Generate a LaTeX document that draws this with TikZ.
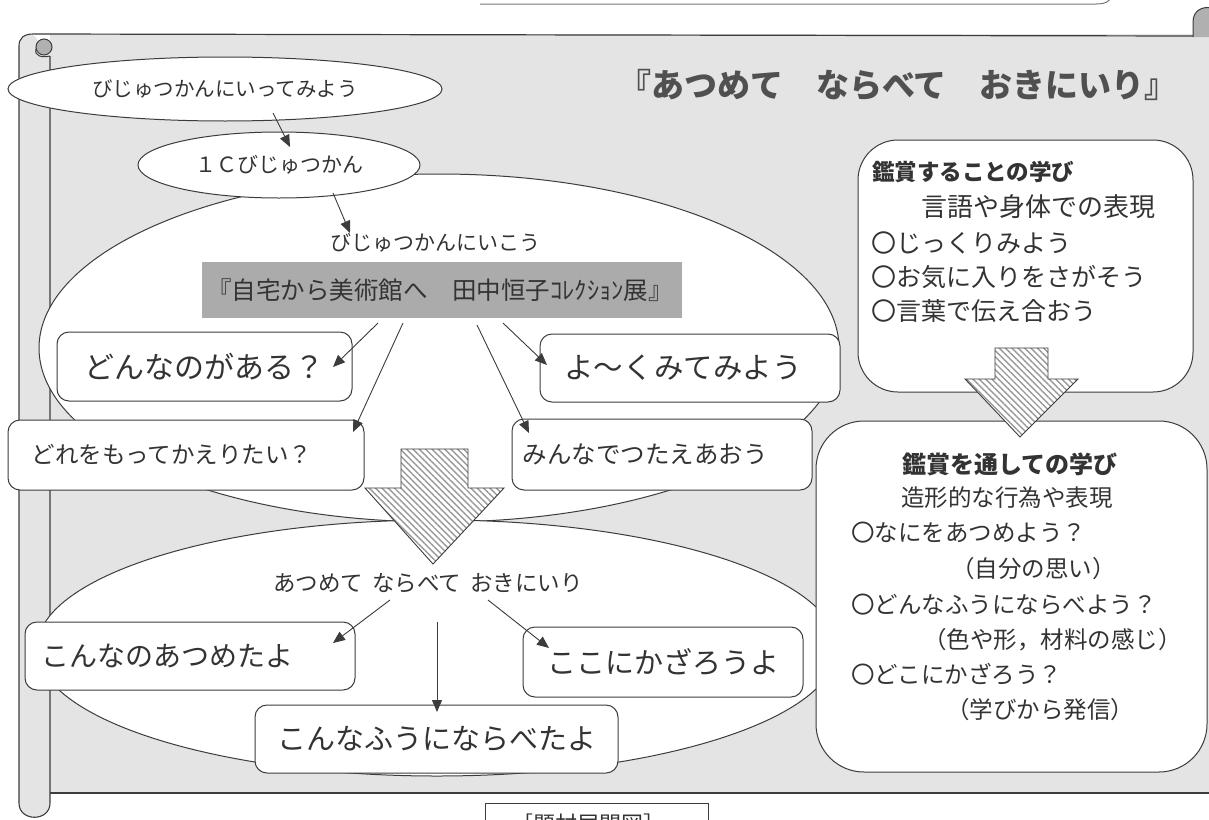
\documentclass[tikz,border=0pt]{standalone}
\usepackage{fontspec}
\setmainfont{Noto Sans CJK JP}
\usetikzlibrary{shapes.geometric,arrows.meta,patterns.meta}
\definecolor{bg}{HTML}{E4E4E4}
\definecolor{ln}{HTML}{3C3C3C}
\definecolor{tx}{HTML}{333333}
\definecolor{bannerc}{HTML}{ABABAB}
\definecolor{titlec}{HTML}{505050}
\definecolor{curlc}{HTML}{B0B0B0}
\newcommand{\jfs}[1]{\fontsize{#1}{#1}\selectfont}
\tikzset{
 box/.style={draw=ln, line width=1pt, fill=white, rounded corners=12pt, inner sep=0pt, align=center, text=tx},
 bigbox/.style={draw=ln, line width=1pt, fill=white, inner sep=0pt},
 oval/.style={ellipse, draw=ln, line width=1pt, fill=white, inner sep=0pt},
 arr/.style={draw=ln, line width=0.9pt, -{Triangle[length=12pt,width=10pt]}},
 hatch/.style={draw=ln, line width=0.9pt, preaction={fill=white}, pattern={Lines[angle=-45,distance=4.5pt,line width=1.4pt]}, pattern color=gray!80},
 txt/.style={inner sep=0pt, text=tx},
 lt/.style={txt, anchor=west},
}
\begin{document}
\begin{tikzpicture}[x=1pt,y=-1pt]
\useasboundingbox (0,0) rectangle (1209,819);
\clip (0,0) rectangle (1209,819);
% page frame fragment at top
\draw[ln!70, line width=1pt] (480,4) -- (1096,4) .. controls (1106,4) and (1110,1) .. (1112,-4);
% scroll background
\fill[bg] (50,34) rectangle (1215,793);
\draw[ln, line width=1.2pt] (33,34) -- (1194,36);
\draw[ln, line width=1.2pt] (50,793) -- (1215,793);
% left roll
\draw[ln, line width=1.1pt, fill=bg] (50,56) -- (50,803) .. controls (50,822) and (19,822) .. (19,803) -- (19,46) .. controls (19,38) and (24,34) .. (33,34);
\draw[ln, line width=1pt, fill=curlc] (44,47) circle[radius=8];
\draw[ln, line width=1pt] (36,49) .. controls (34,56) and (42,58) .. (50,56);
% right curl
\draw[ln, line width=1pt, fill=curlc] (1193,37) -- (1193,22) .. controls (1193,10) and (1203,6) .. (1212,8) -- (1212,37);
% ellipses
\node[oval, minimum width=800pt, minimum height=348pt] (e3) at (439,348) {};
\node[oval, minimum width=434pt, minimum height=64pt] (e1) at (225,89) {};
\node[oval, minimum width=282pt, minimum height=66pt] (e2) at (279,165) {};
\node[oval, minimum width=800pt, minimum height=256pt] (e4) at (437,648) {};
\node[txt, font=\jfs{20.5}] (t1) at (e1) {びじゅつかんにいってみよう};
\node[txt, font=\jfs{21}] (t2) at (e2) {１Ｃびじゅつかん};
\node[txt, font=\jfs{21}] (t3) at (435,243) {びじゅつかんにいこう};
\node[txt, font=\jfs{22.5}] (t4) at (428,583) {あつめて\hspace{0.4em}ならべて\hspace{0.4em}おきにいり};
% banner
\node[fill=bannerc, minimum width=480pt, minimum height=56pt, inner sep=0pt] (ban) at (442,290) {};
\node[txt, font=\jfs{24.5}] (bant) at (440,290) {『自宅から美術館へ　田中恒子ｺﾚｸｼｮﾝ展』};
% title
\node[txt, text=titlec, font=\bfseries\jfs{33}] (title) at (898,85) {『あつめて　ならべて　おきにいり』};
% boxes
\node[box, minimum width=295pt, minimum height=69pt, font=\jfs{30}] (b1) at (204.5,366.5) {どんなのがある？};
\node[box, minimum width=300pt, minimum height=68pt, font=\jfs{29.5}] (b2) at (690,368) {\hspace*{-14pt}よ～くみてみよう};
\node[box, minimum width=356pt, minimum height=70pt, font=\jfs{23.5}] (b3) at (186,455) {\hspace*{-28pt}どれをもってかえりたい？};
\node[box, minimum width=300pt, minimum height=71pt, font=\jfs{24.5}] (b4) at (662,454.5) {\hspace*{-34pt}みんなでつたえあおう};
\node[box, minimum width=330pt, minimum height=68pt, font=\jfs{28}] (b5) at (190,656) {\hspace*{-46pt}こんなのあつめたよ};
\node[box, minimum width=280pt, minimum height=70pt, font=\jfs{29}] (b6) at (663,662) {ここにかざろうよ};
\node[box, minimum width=363pt, minimum height=68pt, font=\jfs{29}] (b7) at (436.5,739) {こんなふうにならべたよ};
% right boxes
\node[bigbox, rounded corners=40pt, minimum width=335pt, minimum height=252pt] (r1) at (1025.5,266) {};
\node[bigbox, rounded corners=48pt, minimum width=391pt, minimum height=351pt] (r2) at (1011.5,596.5) {};
\node[lt, font=\bfseries\jfs{22.5}] (r1a) at (872,172) {鑑賞することの学び};
\node[lt, font=\jfs{26}] (r1b) at (921,207) {言語や身体での表現};
\node[lt, font=\jfs{25}] (r1c) at (871,243) {〇じっくりみよう};
\node[lt, font=\jfs{25}] (r1d) at (871,277) {〇お気に入りをさがそう};
\node[lt, font=\jfs{25}] (r1e) at (871,311) {〇言葉で伝え合おう};
\node[lt, font=\bfseries\jfs{24}] (r2a) at (902,464) {鑑賞を通しての学び};
\node[lt, font=\jfs{23.5}] (r2b) at (901,498) {造形的な行為や表現};
\node[lt, font=\jfs{23.5}] (r2c) at (851,533) {〇なにをあつめよう？};
\node[lt, font=\jfs{23.5}] (r2d) at (951,569) {（自分の思い）};
\node[lt, font=\jfs{23.5}] (r2e) at (851,605) {〇どんなふうにならべよう？};
\node[lt, font=\jfs{23.5}] (r2f) at (923,640) {（色や形，材料の感じ）};
\node[lt, font=\jfs{23.5}] (r2g) at (851,674) {〇どこにかざろう？};
\node[lt, font=\jfs{23.5}] (r2h) at (946,710) {（学びから発信）};
% hatched arrows
\path[hatch] (401,449) -- (468,449) -- (468,488) -- (504,488) -- (433,564) -- (365,488) -- (401,488) -- cycle;
\path[hatch] (995,348) -- (1048,348) -- (1048,379) -- (1078,379) -- (1020,437) -- (965,379) -- (995,379) -- cycle;
% arrow coordinates
\coordinate (s1) at (273,113); \coordinate (p1) at (290,147);
\coordinate (s2) at (333,193); \coordinate (p2) at (350,233);
\coordinate (s3) at (378,323); \coordinate (p3) at (333,367);
\coordinate (s4) at (403,323); \coordinate (p4) at (353,432);
\coordinate (s5) at (503,323); \coordinate (p5) at (547,365);
\coordinate (s6) at (477,325); \coordinate (p6) at (529,433);
\coordinate (s7) at (390,600); \coordinate (p7) at (333,643);
\coordinate (s8) at (488,600); \coordinate (p8) at (549,648);
\coordinate (s9) at (437,622); \coordinate (p9) at (437,712);
\draw[arr] (s1) -- (p1);
\draw[arr] (s2) -- (p2);
\draw[arr] (s3) -- (p3);
\draw[arr] (s4) -- (p4);
\draw[arr] (s5) -- (p5);
\draw[arr] (s6) -- (p6);
\draw[arr] (s7) -- (p7);
\draw[arr] (s8) -- (p8);
\draw[arr] (s9) -- (p9);
% caption box at bottom (cut off, as in the reference)
\node[draw=ln, line width=1pt, fill=white, minimum width=223pt, minimum height=40pt, inner sep=0pt] (cap) at (596.5,823) {};
\node[txt, font=\jfs{22}] (capt) at (588,824) {［題材展開図］};
\end{tikzpicture}
\end{document}
